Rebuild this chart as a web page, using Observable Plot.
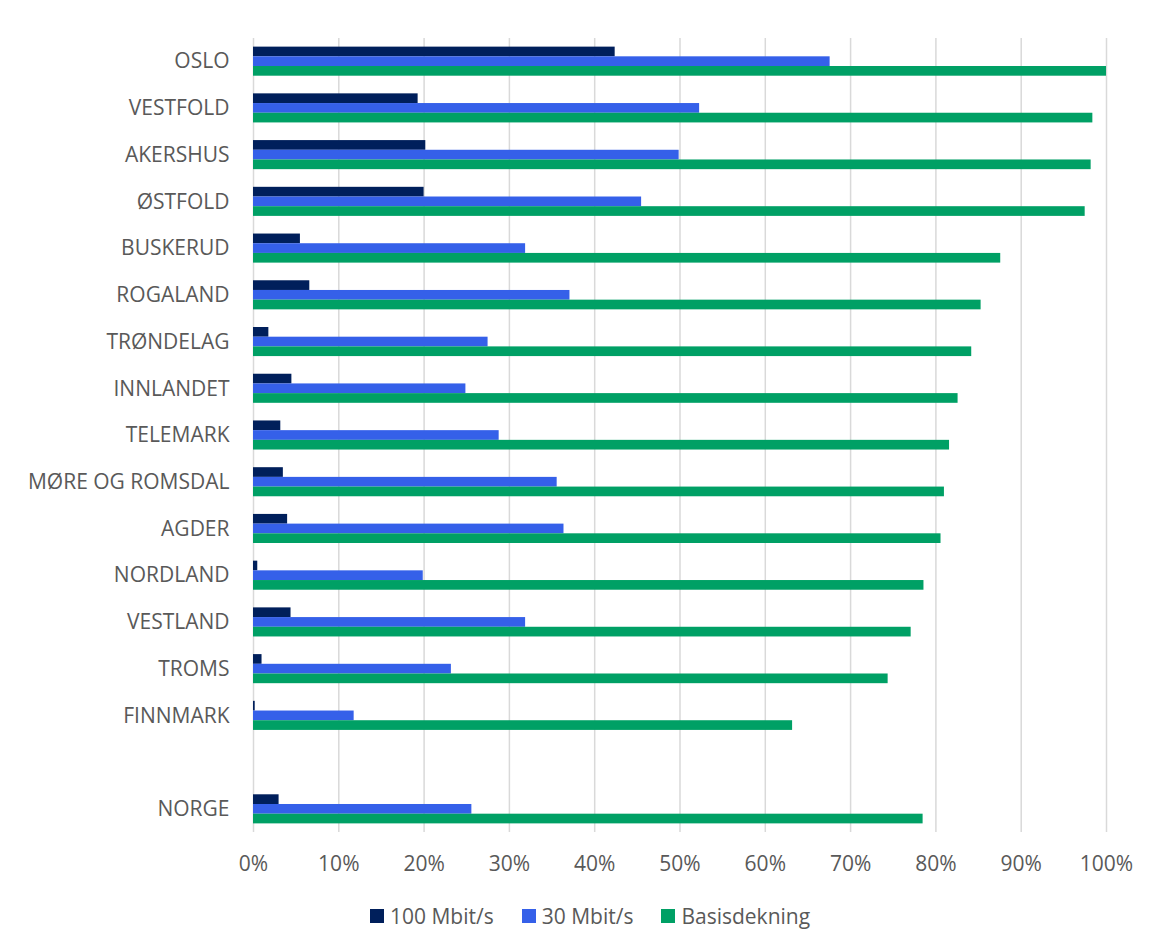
<!DOCTYPE html>
<html>
<head>
<meta charset="utf-8">
<script src="https://cdn.jsdelivr.net/npm/d3@7"></script>
<script src="https://cdn.jsdelivr.net/npm/@observablehq/plot@0.6"></script>
<style>
  body { margin: 0; background: #fff; font-family: "Open Sans", sans-serif; }
  #wrap { position: relative; width: 1153px; height: 950px; }
  #legend { position: absolute; left: 370px; top: 902px; display: flex; align-items: center; font-size: 21px; color: #595959; white-space: nowrap; }
  #legend .item { display: flex; align-items: center; margin-right: 28px; }
  #legend .sw { width: 14px; height: 14px; margin-right: 6px; }
</style>
</head>
<body>
<div id="wrap">
  <div id="chart"></div>
  <div id="legend"></div>
</div>
<script>
const regions = ["OSLO","VESTFOLD","AKERSHUS","ØSTFOLD","BUSKERUD","ROGALAND","TRØNDELAG","INNLANDET","TELEMARK","MØRE OG ROMSDAL","AGDER","NORDLAND","VESTLAND","TROMS","FINNMARK","NORGE"];
const v100  = [42.4,19.3,20.2,20.0,5.5,6.6,1.8,4.5,3.2,3.5,4.0,0.5,4.4,1.0,0.2,3.0];
const v30   = [67.6,52.3,49.9,45.5,31.9,37.1,27.5,24.9,28.8,35.6,36.4,19.9,31.9,23.2,11.8,25.6];
const basis = [100,98.4,98.2,97.5,87.6,85.3,84.2,82.6,81.6,81.0,80.6,78.6,77.1,74.4,63.2,78.5];
const seriesNames = ["100 Mbit/s","30 Mbit/s","Basisdekning"];
const seriesColors = ["#001F5B","#3560E9","#00A065"];
const xTicks = [0,10,20,30,40,50,60,70,80,90,100];
const gapKey = " ";
const yDomain = [...regions.slice(0, 15), gapKey, regions[15]];

const seriesValues = [v100, v30, basis];
const data = [];
seriesNames.forEach((s, si) => regions.forEach((r, i) => data.push({region: r, series: s, si, value: seriesValues[si][i] / 100})));

const W = 1153, H = 890, mt = 38, mb = 58, ml = 253, mr = 47;
const pInner = 0.7926, pOuter = 0.392;
const step = (H - mt - mb) / (yDomain.length - pInner + 2 * pOuter);
const bw = step * (1 - pInner);

const marks = [
  Plot.ruleX(xTicks.map(d => d / 100), {stroke: "#d9d9d9", strokeWidth: 1.5})
];
seriesNames.forEach((s, si) => {
  marks.push(Plot.barX(data.filter(d => d.si === si), {
    x: "value", y: "region", fill: seriesColors[si], dy: (si - 1) * bw
  }));
});

const chart = Plot.plot({
  width: W, height: H,
  marginTop: mt, marginBottom: mb, marginLeft: ml, marginRight: mr,
  style: {fontFamily: "Open Sans", fontSize: "21px", color: "#595959", background: "white"},
  x: {domain: [0, 1], ticks: xTicks.map(d => d / 100), tickFormat: d => Math.round(d * 100) + "%", tickSize: 0, tickPadding: 24, label: null},
  y: {domain: yDomain, paddingInner: pInner, paddingOuter: pOuter, round: false, tickSize: 0, tickPadding: 24, label: null},
  marks
});
document.getElementById("chart").appendChild(chart);

const legend = document.getElementById("legend");
seriesNames.forEach((s, i) => {
  const it = document.createElement("div");
  it.className = "item";
  it.innerHTML = `<span class="sw" style="background:${seriesColors[i]}"></span><span>${s}</span>`;
  legend.appendChild(it);
});
</script>
</body>
</html>
